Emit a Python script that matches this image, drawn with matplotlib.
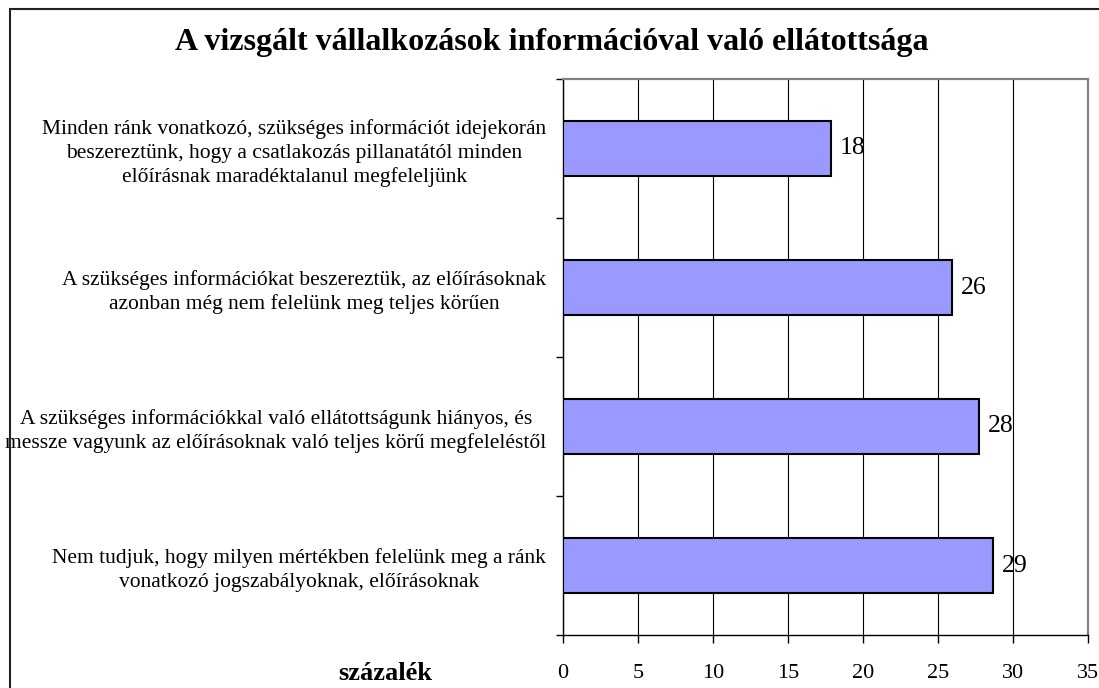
import numpy as np
import matplotlib.pyplot as plt
from matplotlib.patches import Rectangle

plt.rcParams['font.family'] = ['Liberation Serif', 'DejaVu Serif']

title = 'A vizsgált vállalkozások információval való ellátottsága'
categories = [
    'Minden ránk vonatkozó, szükséges információt idejekorán\n'
    'beszereztünk, hogy a csatlakozás pillanatától minden\n'
    'előírásnak maradéktalanul megfeleljünk',
    'A szükséges információkat beszereztük, az előírásoknak\n'
    'azonban még nem felelünk meg teljes körűen',
    'A szükséges információkkal való ellátottságunk hiányos, és\n'
    'messze vagyunk az előírásoknak való teljes körű megfeleléstől',
    'Nem tudjuk, hogy milyen mértékben felelünk meg a ránk\n'
    'vonatkozó jogszabályoknak, előírásoknak',
]
values = [17.85, 25.95, 27.75, 28.65]
value_labels = ['18', '26', '28', '29']
xticks = [0, 5, 10, 15, 20, 25, 30, 35]
xlabel = 'százalék'

W, H = 1099, 688
fig = plt.figure(figsize=(W / 100, H / 100), dpi=100)
ax = fig.add_axes([563 / W, 1 - 635 / H, (1088 - 563) / W, (635 - 79) / H])

y = np.arange(len(categories))
ax.barh(y, values, height=0.4, color='#9999FF', edgecolor='black', linewidth=1.5, zorder=3)
for yi, v, lab in zip(y, values, value_labels):
    ax.annotate(lab, (v, yi), xytext=(9, 0), textcoords='offset pixels',
                ha='left', va='center', fontsize=18.5, zorder=4)

ax.set_xlim(0, 35)
ax.set_ylim(3.5, -0.5)
ax.set_xticks(xticks)
ax.set_xticklabels([str(t) for t in xticks], fontsize=16)
ax.tick_params(axis='x', direction='out', length=6, width=1, pad=15)
ax.xaxis.grid(True, color='black', linewidth=0.8, zorder=1)

ax.set_yticks(y)
ax.set_yticklabels(categories, fontsize=15.5, ha='right', multialignment='center',
                   linespacing=1.3)
ax.tick_params(axis='y', which='major', length=0, pad=12)
ax.set_yticks(np.arange(-0.5, 4, 1), minor=True)
ax.tick_params(axis='y', which='minor', direction='out', length=5, width=1)

for s in ['top', 'right']:
    ax.spines[s].set_color('#808080')
    ax.spines[s].set_linewidth(1.6)
for s in ['left', 'bottom']:
    ax.spines[s].set_color('black')
    ax.spines[s].set_linewidth(1.0)

fig.text(175 / W, 1 - 50 / H, title, fontsize=23, fontweight='bold',
         ha='left', va='baseline')
fig.text(385 / W, 1 - 680 / H, xlabel, fontsize=19, fontweight='bold',
         ha='center', va='baseline')

fig.add_artist(Rectangle((9.5 / W, -0.1), 1.0, 1.1 - 9.5 / H,
                         transform=fig.transFigure, fill=False,
                         edgecolor='#222222', linewidth=1.5))

fig.savefig('out.png', dpi=100)
